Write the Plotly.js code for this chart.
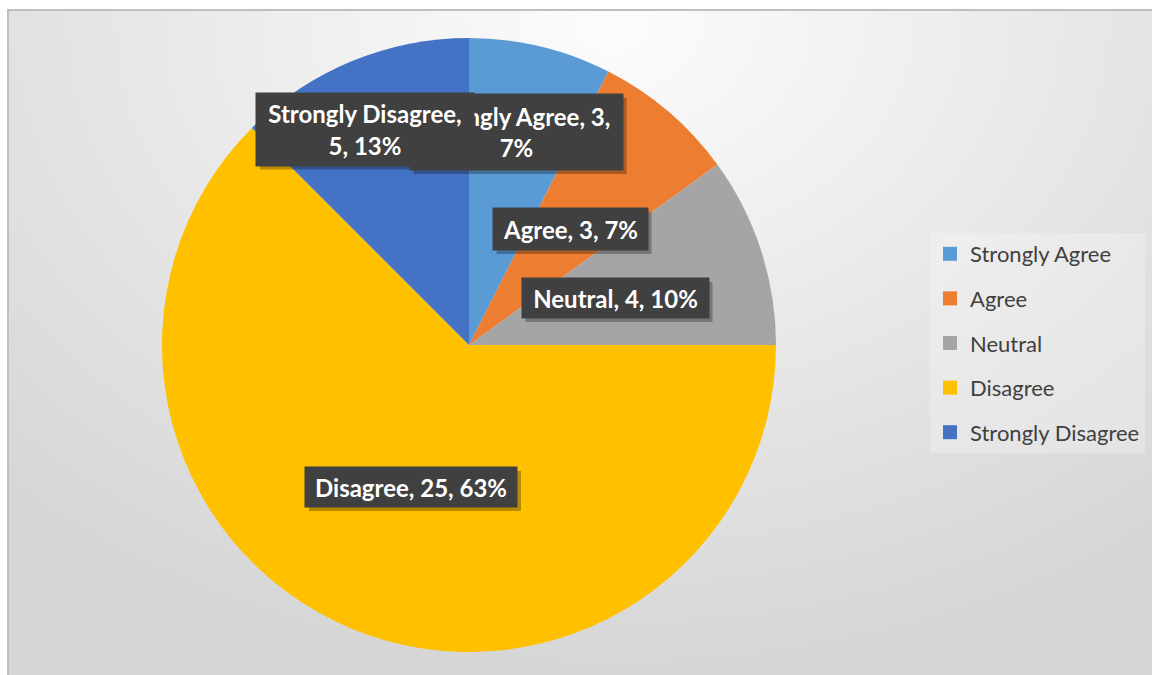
<!DOCTYPE html>
<html>
<head>
<meta charset="utf-8">
<script src="https://cdn.plot.ly/plotly-3.0.1.min.js"></script>
<style>
  html, body { margin: 0; padding: 0; background: #ffffff; width: 1152px; height: 675px; overflow: hidden; }
  #frame {
    position: absolute; left: 7px; top: 9px; width: 1160px; height: 680px;
    border-left: 2px solid #bfbfbf; border-top: 2px solid #bfbfbf;
    background: radial-gradient(ellipse 75% 95% at 52% 2%, #fcfcfc 0%, #f1f1f1 30%, #e3e3e3 65%, #d6d6d6 100%);
  }
  #chart { position: absolute; left: 0; top: 0; width: 1152px; height: 675px; }
</style>
</head>
<body>
<div id="frame"></div>
<div id="chart"></div>
<script>
// ---- data ----
const categories = ['Strongly Agree', 'Agree', 'Neutral', 'Disagree', 'Strongly Disagree'];
const counts = [3, 3, 4, 25, 5];
const percentLabels = ['7%', '7%', '10%', '63%', '13%'];
const colors = ['#5B9BD5', '#ED7D31', '#A5A5A5', '#FFC000', '#4472C4'];

const W = 1152, H = 675;
const px = x => x / W;
const py = y => 1 - y / H;

const pie = {
  type: 'pie',
  labels: categories,
  values: counts,
  sort: false,
  direction: 'clockwise',
  rotation: 0,
  textinfo: 'none',
  hoverinfo: 'label+value+percent',
  marker: { colors: colors, line: { width: 0 } },
  showlegend: false,
  domain: { x: [px(162), px(776)], y: [py(652), py(38)] }
};

// legend entries (one per category)
const legendTraces = categories.map((c, i) => ({
  type: 'scatter', mode: 'markers', x: [null], y: [null],
  name: c, legendgroup: c, showlegend: true, hoverinfo: 'skip',
  marker: { symbol: 'square', size: 14, color: colors[i] }
}));

// label boxes (order: SA first so SD draws above)
const labelBoxes = [
  { cx: 516, cy: 132, w: 213, h: 76, text: `${categories[0]}, ${counts[0]},<br>${percentLabels[0]}` },
  { cx: 365, cy: 129, w: 218, h: 73, text: `${categories[4]},<br>${counts[4]}, ${percentLabels[4]}` },
  { cx: 570, cy: 229, w: 155, h: 42, text: `${categories[1]}, ${counts[1]}, ${percentLabels[1]}` },
  { cx: 615, cy: 298, w: 187, h: 40, text: `${categories[2]}, ${counts[2]}, ${percentLabels[2]}` },
  { cx: 411, cy: 487, w: 212, h: 40, text: `${categories[3]}, ${counts[3]}, ${percentLabels[3]}` }
];

const shapes = labelBoxes.map(b => ({
  type: 'rect', xref: 'paper', yref: 'paper', layer: 'above',
  x0: px(b.cx - b.w / 2 + 4), x1: px(b.cx + b.w / 2 + 4),
  y0: py(b.cy + b.h / 2 + 4), y1: py(b.cy - b.h / 2 + 4),
  fillcolor: 'rgba(0,0,0,0.28)', line: { width: 0 }
}));

const annotations = labelBoxes.map(b => ({
  xref: 'paper', yref: 'paper', x: px(b.cx), y: py(b.cy), showarrow: false,
  xanchor: 'center', yanchor: 'middle',
  width: b.w, height: b.h, borderpad: 0,
  bgcolor: '#404040', text: '<b>' + b.text + '</b>',
  font: { family: 'Lato, "Open Sans", sans-serif', size: 24, color: '#ffffff' }
}));

const layout = {
  width: W, height: H,
  margin: { l: 0, r: 0, t: 0, b: 0 },
  paper_bgcolor: 'rgba(0,0,0,0)',
  plot_bgcolor: 'rgba(0,0,0,0)',
  xaxis: { visible: false, domain: [0.99, 1] },
  yaxis: { visible: false, domain: [0.99, 1] },
  showlegend: true,
  legend: {
    x: px(930), xanchor: 'left', y: py(233), yanchor: 'top',
    bgcolor: 'rgba(255,255,255,0.25)',
    font: { family: 'Lato, "Open Sans", sans-serif', size: 22, color: '#404040' },
    tracegroupgap: 13,
    itemclick: false, itemdoubleclick: false
  },
  shapes: shapes,
  annotations: annotations
};

Plotly.newPlot('chart', [pie, ...legendTraces], layout, { displayModeBar: false, staticPlot: true });
</script>
</body>
</html>
